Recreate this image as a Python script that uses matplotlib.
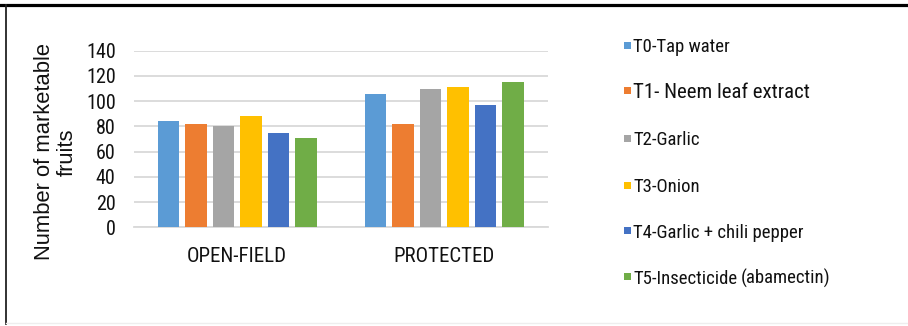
import matplotlib
matplotlib.use("Agg")
import matplotlib.pyplot as plt
import numpy as np
from matplotlib.patches import Rectangle
from matplotlib.lines import Line2D

categories = ["OPEN-FIELD", "PROTECTED"]
treatments = ["T0-Tap water", "T1- Neem leaf extract", "T2-Garlic", "T3-Onion",
              "T4-Garlic + chili pepper", "T5-Insecticide"]
t5_suffix = "(abamectin)"
values = {
    "T0-Tap water": [84, 106],
    "T1- Neem leaf extract": [82, 82],
    "T2-Garlic": [80, 110],
    "T3-Onion": [88, 111],
    "T4-Garlic + chili pepper": [75, 97],
    "T5-Insecticide": [71, 115],
}
colors = ["#5B9BD5", "#ED7D31", "#A5A5A5", "#FFC000", "#4472C4", "#70AD47"]
yticks = [0, 20, 40, 60, 80, 100, 120, 140]

COND = "Roboto Condensed"

W, H = 908, 326
fig = plt.figure(figsize=(W / 100, H / 100), dpi=100)
fig.patch.set_facecolor("white")

ax = fig.add_axes([133.7 / W, 1 - 227.3 / H, (547.7 - 133.7) / W, (227.3 - 50.7) / H])
x = np.arange(len(categories))
pitch = 0.1329
bw = 0.105
for i, t in enumerate(treatments):
    ax.bar(x + (i - 2.5) * pitch, values[t], width=bw, color=colors[i], zorder=3)

ax.set_xlim(-0.5, 1.5)
ax.set_ylim(0, 140)
ax.set_yticks(yticks)
ax.set_yticklabels([str(v) for v in yticks])
ax.set_xticks(x)
ax.set_xticklabels(categories)
ax.yaxis.grid(True, color="#D9D9D9", linewidth=1.3, zorder=0)
ax.set_axisbelow(True)
for s in ["top", "right", "left"]:
    ax.spines[s].set_visible(False)
ax.spines["bottom"].set_color("#D9D9D9")
ax.spines["bottom"].set_linewidth(1.3)
ax.tick_params(axis="both", length=0)
ax.tick_params(axis="y", pad=13, labelsize=14.5)
ax.tick_params(axis="x", pad=14.5, labelsize=15)
for lab in ax.get_yticklabels() + ax.get_xticklabels():
    lab.set_fontfamily(COND)
    lab.set_color("#111111")

fig.text(56 / W, 1 - 152 / H, "Number of marketable\nfruits", rotation=90,
         ha="center", va="center", multialignment="center",
         fontfamily="Liberation Sans", fontsize=15.8, color="#111111",
         linespacing=1.07)

# legend (manual)
ys = [45, 90.7, 138.3, 185, 230.7, 276.7]
sizes = [13.5, 15, 13.5, 13.5, 13.5, 13.5]
for i, t in enumerate(treatments):
    yc = 1 - ys[i] / H
    fig.patches.append(Rectangle((624 / W, yc - 3.5 / H), 6.5 / W, 7 / H,
                                 transform=fig.transFigure, facecolor=colors[i],
                                 edgecolor="none"))
    txt = fig.text(633 / W, yc, t, ha="left", va="center_baseline",
                   fontfamily=COND, fontsize=sizes[i], color="#111111")
    if i == 5:
        ax.annotate(t5_suffix, xy=(1, 0), xycoords=txt, xytext=(2.5, 2.5),
                    textcoords="offset points", ha="left", va="baseline",
                    fontfamily=COND, fontsize=13.5, color="#111111",
                    annotation_clip=False)

# frame lines
fig.add_artist(Line2D([0, 1], [1 - 5.3 / H, 1 - 5.3 / H], transform=fig.transFigure,
                      color="black", linewidth=2.3))
fig.add_artist(Line2D([6.3 / W, 6.3 / W], [1 - 5 / H, 1 - 324 / H], transform=fig.transFigure,
                      color="#222222", linewidth=1.3))
fig.add_artist(Line2D([6 / W, 1], [1 - 322.5 / H, 1 - 322.5 / H], transform=fig.transFigure,
                      color="#EEEEEE", linewidth=1.0))

fig.savefig("out.png", dpi=100, facecolor="white")
